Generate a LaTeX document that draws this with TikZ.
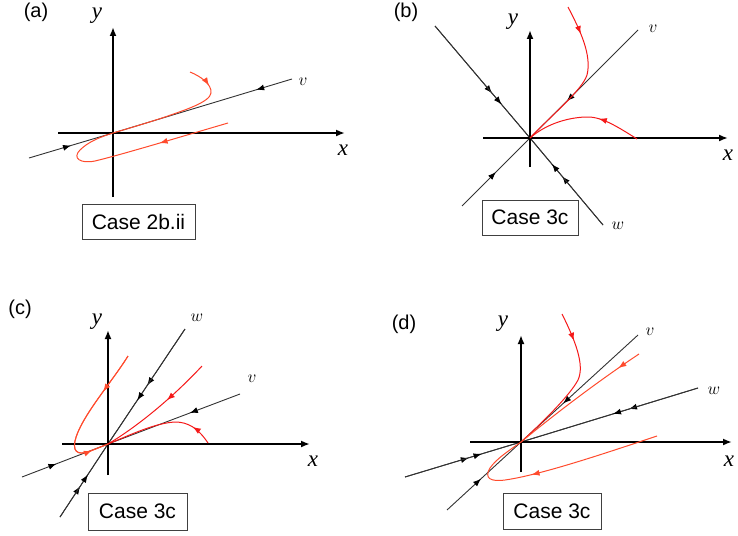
\documentclass[tikz,border=0pt]{standalone}
\usepackage{fontspec}
\setmainfont{Liberation Sans}
\newfontfamily\labserif{Liberation Serif}
\usetikzlibrary{arrows.meta,decorations.markings}
\definecolor{trajA}{RGB}{255,75,45}
\definecolor{trajB}{RGB}{245,25,25}
\definecolor{eigcol}{RGB}{50,50,50}
\tikzset{
  axis/.style={line width=2pt,-{Latex[length=9pt,width=7pt]}},
  eig/.style={color=eigcol,line width=0.9pt},
  traj/.style={line width=1pt},
  mk/.style={postaction={decorate,decoration={markings,mark=at position #1 with {\arrow{Latex[length=8pt,width=6pt]}}}}},
  mb/.style={postaction={decorate,decoration={markings,mark=at position #1 with {\arrow{Latex[length=8pt,width=6pt,color=black]}}}}},
  casebox/.style={draw=black!75,line width=0.8pt,inner sep=0pt,font=\fontsize{21}{24}\selectfont},
  plab/.style={font=\fontsize{20}{24}\selectfont},
  axlab/.style={font=\fontsize{23}{26}\selectfont\labserif\itshape},
  eiglab/.style={font=\fontsize{18}{20}\selectfont}
}
\begin{document}
\begin{tikzpicture}[x=1pt,y=-1pt]
\useasboundingbox (0,0) rectangle (738,535);
\clip (0,0) rectangle (738,535);
% ================= (a) =================
\node[plab] (la) at (36,12) {(a)};
\coordinate (Oa) at (113,133);
\coordinate (ay0) at (113,197); \coordinate (ay1) at (113,27);
\coordinate (ax0) at (58,133);  \coordinate (ax1) at (345,133);
\coordinate (av1) at (292,79);  \coordinate (av2) at (29,158);
\draw[eig,mb=0.2] (av1) -- (Oa);
\draw[eig,mb=0.5] (av2) -- (Oa);
\draw[axis] (ay0) -- (ay1);
\draw[axis] (ax0) -- (ax1);
\draw[traj,color=trajA,mk=0.17] (190,72) .. controls (200,76) and (212,84) .. (211,93)
   .. controls (210,102) and (185,110) .. (165,117) .. controls (150,122) and (130,128) .. (Oa);
\draw[traj,color=trajA,mk=0.35] (228,123) .. controls (170,140) and (120,155) .. (95,161)
   .. controls (80,164) and (72,158) .. (80,150) .. controls (88,142) and (100,137) .. (Oa);
\node[axlab] (ya) at (97,16) {y};
\node[axlab] (xa) at (343,150) {x};
\node[eiglab] (va) at (303,82) {$v$};
\node[casebox,minimum width=113pt,minimum height=35pt] (ca) at (138.5,221.5) {Case 2b.ii};
% ================= (b) =================
\node[plab] (lb) at (406,12) {(b)};
\coordinate (Ob) at (530,138);
\coordinate (by0) at (530,167); \coordinate (by1) at (530,30);
\coordinate (bx0) at (483,138); \coordinate (bx1) at (728,138);
\coordinate (bv1) at (638,30);  \coordinate (bv2) at (462,206);
\coordinate (bw1) at (435,26);  \coordinate (bw2) at (603,225);
\draw[eig,mb=0.66] (bv1) -- (Ob);
\draw[eig,mb=0.5] (bv2) -- (Ob);
\draw[eig,mb=0.6] (bw1) -- (Ob);
\draw[eig,mb=0.7] (bw1) -- (Ob);
\draw[eig,mb=0.56] (bw2) -- (Ob);
\draw[eig,mb=0.70] (bw2) -- (Ob);
\draw[axis] (by0) -- (by1);
\draw[axis] (bx0) -- (bx1);
\draw[traj,color=trajB,mk=0.19] (568,7) .. controls (580,30) and (592,55) .. (587,75)
   .. controls (582,90) and (555,112) .. (Ob);
\draw[traj,color=trajB,mk=0.37] (637,139) .. controls (615,125) and (600,116) .. (585,117)
   .. controls (565,118) and (545,125) .. (Ob);
\node[axlab] (yb) at (513,22) {y};
\node[axlab] (xb) at (728,155) {x};
\node[eiglab] (vb) at (653,29) {$v$};
\node[eiglab] (wb) at (618,226) {$w$};
\node[casebox,minimum width=96pt,minimum height=35pt] (cb) at (530,217.5) {Case 3c};
% ================= (c) =================
\node[plab] (lc) at (20,309) {(c)};
\coordinate (Oc) at (108,444);
\coordinate (cy0) at (108,475); \coordinate (cy1) at (108,330);
\coordinate (cx0) at (62,444);  \coordinate (cx1) at (310,444);
\coordinate (cw1) at (185,329); \coordinate (cw2) at (60,517);
\coordinate (cv1) at (240,394); \coordinate (cv2) at (22,477);
\draw[eig,mb=0.49] (cw1) -- (Oc);
\draw[eig,mb=0.62] (cw1) -- (Oc);
\draw[eig,mb=0.42] (cw2) -- (Oc);
\draw[eig,mb=0.58] (cw2) -- (Oc);
\draw[eig,mb=0.38] (cv1) -- (Oc);
\draw[eig,mb=0.40] (cv2) -- (Oc);
\draw[axis] (cy0) -- (cy1);
\draw[axis] (cx0) -- (cx1);
\draw[traj,color=trajA,mk=0.3] (128,356) .. controls (112,382) and (80,418) .. (75,441)
   .. controls (72,455) and (82,455) .. (93,450) .. controls (98,448) and (103,446) .. (Oc);
\draw[traj,color=trajA,mk=0.88] (128,356) .. controls (112,382) and (80,418) .. (75,441)
   .. controls (72,455) and (82,455) .. (93,450) .. controls (98,448) and (103,446) .. (Oc);
\draw[traj,color=trajB,mk=0.4] (202,366) .. controls (175,395) and (140,425) .. (Oc);
\draw[traj,color=trajB,mk=0.2] (208,443) .. controls (198,428) and (188,422) .. (175,422)
   .. controls (155,423) and (130,435) .. (Oc);
\node[axlab] (yc) at (97,322) {y};
\node[axlab] (xc) at (313,461) {x};
\node[eiglab] (vc) at (252,379) {$v$};
\node[eiglab] (wc) at (197,318) {$w$};
\node[casebox,minimum width=99pt,minimum height=37pt] (cc) at (137.5,511.5) {Case 3c};
% ================= (d) =================
\node[plab] (ld) at (404,324) {(d)};
\coordinate (Od) at (521,442);
\coordinate (dy0) at (521,472); \coordinate (dy1) at (521,335);
\coordinate (dx0) at (470,442); \coordinate (dx1) at (732,442);
\coordinate (dv1) at (638,335); \coordinate (dv2) at (447,510);
\coordinate (dw1) at (698,388); \coordinate (dw2) at (405,477);
\draw[eig,mb=0.64] (dv1) -- (Od);
\draw[eig,mb=0.46] (dv2) -- (Od);
\draw[eig,mb=0.39] (dw1) -- (Od);
\draw[eig,mb=0.48] (dw1) -- (Od);
\draw[eig,mb=0.55] (dw2) -- (Od);
\draw[eig,mb=0.66] (dw2) -- (Od);
\draw[axis] (dy0) -- (dy1);
\draw[axis] (dx0) -- (dx1);
\draw[traj,color=trajB,mk=0.19] (562,314) .. controls (575,340) and (585,365) .. (578,380)
   .. controls (570,395) and (545,420) .. (Od);
\draw[traj,color=trajA,mk=0.17] (639,354) .. controls (600,380) and (560,410) .. (Od);
\draw[traj,color=trajA,mk=0.58] (657,436) .. controls (600,455) and (540,475) .. (505,480)
   .. controls (490,482) and (484,478) .. (490,468) .. controls (497,458) and (510,450) .. (Od);
\node[axlab] (yd) at (503,324) {y};
\node[axlab] (xd) at (729,461) {x};
\node[eiglab] (vd) at (650,332) {$v$};
\node[eiglab] (wd) at (714,391) {$w$};
\node[casebox,minimum width=98pt,minimum height=36pt] (cd) at (552,511) {Case 3c};
\end{tikzpicture}
\end{document}
